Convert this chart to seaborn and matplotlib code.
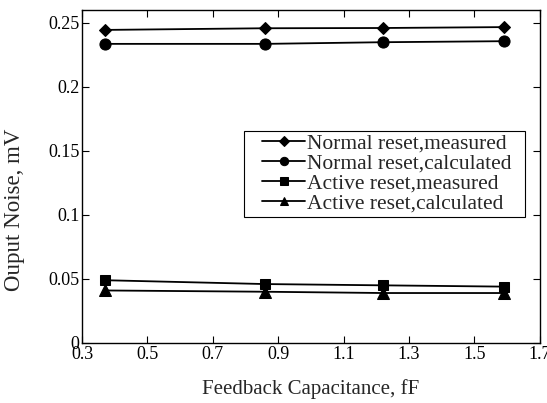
import matplotlib
matplotlib.use("Agg")
import matplotlib.pyplot as plt
from matplotlib.patches import Rectangle
import seaborn as sns
import pandas as pd

capacitance = [0.37, 0.86, 1.22, 1.59]
normal_measured = [0.2445, 0.2458, 0.2460, 0.2467]
normal_calculated = [0.2336, 0.2336, 0.2349, 0.2357]
active_measured = [0.0490, 0.0460, 0.0450, 0.0440]
active_calculated = [0.0410, 0.0400, 0.0390, 0.0390]
series_names = ["Normal reset,measured", "Normal reset,calculated",
                "Active reset,measured", "Active reset,calculated"]

sns.set_style("ticks")
plt.rcParams['font.family'] = ['Liberation Serif', 'DejaVu Serif']

rows = []
for name, vals in zip(series_names, [normal_measured, normal_calculated, active_measured, active_calculated]):
    for x, y in zip(capacitance, vals):
        rows.append({"x": x, "y": y, "series": name})
df = pd.DataFrame(rows)

fig = plt.figure(figsize=(5.47, 4.03), dpi=100)
ax = fig.add_axes([0.150, 0.149, 0.837, 0.826])

markers = {"Normal reset,measured": "D", "Normal reset,calculated": "o",
           "Active reset,measured": "s", "Active reset,calculated": "^"}
msizes = {"Normal reset,measured": 6.5, "Normal reset,calculated": 8,
          "Active reset,measured": 7.5, "Active reset,calculated": 8}
for name in series_names:
    sub = df[df.series == name]
    sns.lineplot(data=sub, x="x", y="y", ax=ax, color="black", marker=markers[name],
                 markersize=msizes[name], markeredgecolor="black", linewidth=1.3, label=name)

ax.set_xlim(0.3, 1.7)
ax.set_ylim(0, 0.26)
ax.set_xticks([0.3, 0.5, 0.7, 0.9, 1.1, 1.3, 1.5, 1.7])
ax.set_xticklabels(["0.3", "0.5", "0.7", "0.9", "1.1", "1.3", "1.5", "1.7"])
ax.set_yticks([0, 0.05, 0.1, 0.15, 0.2, 0.25])
ax.set_yticklabels(["0", "0.05", "0.1", "0.15", "0.2", "0.25"])
ax.tick_params(direction="in", top=True, right=True, labelsize=13, length=5, width=0.8,
               colors="black", pad=2)
for s in ax.spines.values():
    s.set_color("black")
    s.set_linewidth(1.0)
ax.set_xlabel("Feedback Capacitance, fF", fontsize=15, labelpad=12)
ax.set_ylabel("Ouput Noise, mV", fontsize=16.5)
ax.yaxis.set_label_coords(-0.125, 0.40)

leg = ax.legend(loc="upper left", bbox_to_anchor=(0.393, 0.630), fontsize=15.5, frameon=False,
                handlelength=2.0, borderpad=0.0,
                labelspacing=0.0, handletextpad=0.1, borderaxespad=0, markerscale=0.75)

fig.canvas.draw()
bb = leg.get_window_extent()
inv = ax.transAxes.inverted()
(x0, y0) = inv.transform((bb.x0 - 18, bb.y0 - 3))
(x1, y1) = inv.transform((bb.x1 + 13, bb.y1 + 2))
ax.add_patch(Rectangle((x0, y0), x1 - x0, y1 - y0, transform=ax.transAxes,
                       facecolor="white", edgecolor="black", linewidth=0.8, zorder=4))
leg.set_zorder(5)

fig.savefig("out.png", dpi=100)
